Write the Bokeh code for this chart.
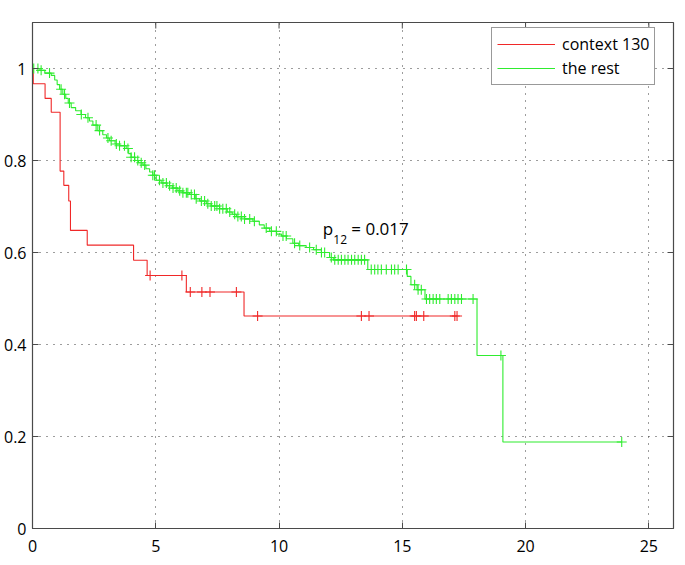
import numpy as np
from bokeh.plotting import figure
from bokeh.models import FixedTicker, Label, Legend, LegendItem, Range1d
from bokeh.embed import file_html
from bokeh.resources import INLINE

# ---------------- data ----------------
# group "context 130" (red): event times and survival after each event
red_times = [0.0, 0.03, 0.51, 0.76, 1.12, 1.27, 1.47, 1.54, 2.22, 4.10, 4.65, 6.24, 8.58]
red_surv = [1.0, 0.967, 0.935, 0.905, 0.777, 0.746, 0.712, 0.648, 0.616, 0.583, 0.550, 0.514, 0.462]
red_censor = [4.77, 6.06, 6.40, 6.87, 7.20, 8.27, 9.13, 13.34, 13.65, 15.50, 15.57,
              15.87, 17.13, 17.22]

# group "the rest" (green)
green_times = [0.0, 0.30, 0.50, 0.76, 0.90, 1.00, 1.10, 1.23, 1.35, 1.45, 1.57, 1.75, 1.97,
               2.15, 2.31, 2.45, 2.65, 2.85, 3.00, 3.12, 3.35, 3.53, 3.80, 3.90, 4.00,
               4.15, 4.30, 4.48, 4.60, 4.75, 4.88, 5.02, 5.22, 5.45, 5.69, 5.90, 6.10,
               6.37, 6.60, 6.78, 7.05, 7.25, 7.59, 7.90, 8.10, 8.27, 8.60, 8.94, 9.20,
               9.40, 9.62, 9.90, 10.10, 10.30, 10.56, 10.80, 11.10, 11.40, 11.72, 12.05,
               12.20, 13.60, 15.20, 15.35, 15.60, 15.92, 18.03, 19.08]
green_surv = [1.0, 0.996, 0.990, 0.985, 0.975, 0.965, 0.955, 0.944, 0.935, 0.925, 0.915,
              0.908, 0.900, 0.893, 0.886, 0.877, 0.865, 0.856, 0.849, 0.843, 0.836, 0.832,
              0.826, 0.815, 0.807, 0.800, 0.795, 0.790, 0.782, 0.775, 0.768, 0.757, 0.751,
              0.745, 0.740, 0.734, 0.730, 0.726, 0.717, 0.712, 0.706, 0.701, 0.695, 0.688,
              0.683, 0.678, 0.673, 0.668, 0.660, 0.653, 0.646, 0.640, 0.636, 0.630, 0.620,
              0.615, 0.611, 0.606, 0.600, 0.589, 0.584, 0.563, 0.548, 0.530, 0.519, 0.499,
              0.376, 0.188]
green_censor = [0.05, 0.22, 0.35, 0.69, 1.16, 1.30, 1.50, 1.98, 2.25, 2.58, 2.72, 3.06,
                3.19, 3.40, 3.53, 3.73, 3.87, 4.00, 4.14, 4.27, 4.41, 4.55, 4.88, 4.95,
                5.15, 5.29, 5.43, 5.56, 5.70, 5.83, 5.97, 6.10, 6.24, 6.30, 6.44, 6.57,
                6.64, 6.85, 6.98, 7.11, 7.25, 7.39, 7.48, 7.59, 7.72, 7.86, 8.00, 8.20,
                8.33, 8.47, 8.60, 8.81, 9.00, 9.48, 9.69, 9.89, 10.16, 10.29, 10.63, 10.84,
                11.24, 11.51, 11.72, 11.85, 12.12, 12.26, 12.40, 12.53, 12.67, 12.80,
                12.94, 13.07, 13.21, 13.34, 13.47, 13.74, 13.88, 14.01, 14.15, 14.35,
                14.56, 14.69, 14.83, 15.17, 15.50, 15.64, 15.77, 15.98, 16.11, 16.25,
                16.38, 16.52, 16.86, 16.99, 17.13, 17.26, 17.40, 17.87, 19.00, 23.90]

x_ticks = [0, 5, 10, 15, 20, 25]
y_ticks = [0, 0.2, 0.4, 0.6, 0.8, 1.0]
y_tick_labels = ["0", "0.2", "0.4", "0.6", "0.8", "1"]
series_names = ["context 130", "the rest"]
p_label = ("p", "12", "= 0.017")

X_MAX, Y_MAX = 26, 1.1

RED = "#f02828"
GREEN = "#2fec2f"
FONT = "Open Sans"
AX = "#4a4a4a"


def km_arrays(times, surv, censor):
    end = max(max(censor), times[-1])
    xs = list(times) + [end]
    ys = list(surv) + [surv[-1]]
    idx = np.searchsorted(np.array(times), np.array(censor), side="right") - 1
    cy = [surv[i] for i in idx]
    return xs, ys, cy


p = figure(frame_width=641, frame_height=506,
           x_range=Range1d(0, X_MAX), y_range=Range1d(0, Y_MAX),
           output_backend="svg", toolbar_location=None,
           min_border_left=0, min_border_right=8, min_border_top=22, min_border_bottom=36)
p.background_fill_color = "white"
p.border_fill_color = "white"
p.outline_line_color = AX
p.outline_line_width = 1.2

p.xaxis[0].ticker = FixedTicker(ticks=x_ticks)
p.yaxis[0].ticker = FixedTicker(ticks=y_ticks)
p.yaxis[0].major_label_overrides = {t: s for t, s in zip(y_ticks, y_tick_labels)}

for ax in p.axis:
    ax.major_tick_in = 6
    ax.major_tick_out = 0
    ax.minor_tick_in = 0
    ax.minor_tick_out = 0
    ax.axis_line_color = AX
    ax.major_tick_line_color = AX
    ax.major_label_text_font = FONT
    ax.major_label_text_font_size = "16px"
    ax.major_label_text_color = "black"

p.xaxis[0].major_label_standoff = 11
p.yaxis[0].major_label_standoff = 6

for g in (p.xgrid[0], p.ygrid[0]):
    g.grid_line_color = "#3a3a3a"
    g.grid_line_dash = "1 6"
    g.grid_line_width = 1
p.xgrid[0].ticker = FixedTicker(ticks=x_ticks)
p.ygrid[0].ticker = FixedTicker(ticks=y_ticks)

# inward tick marks on the top and right edges (half of each dash is clipped by the frame)
p.scatter([X_MAX] * len(y_ticks), y_ticks, marker="dash", size=12,
          line_color=AX, line_width=1)
p.scatter(x_ticks, [Y_MAX] * len(x_ticks), marker="dash", size=12, angle=np.pi / 2,
          line_color=AX, line_width=1)

# curves
rx, ry, rcy = km_arrays(red_times, red_surv, red_censor)
gx, gy, gcy = km_arrays(green_times, green_surv, green_censor)

r_line = p.step(rx, ry, mode="after", line_color=RED, line_width=1.1)
g_line = p.step(gx, gy, mode="after", line_color=GREEN, line_width=1.1)
p.scatter(red_censor, rcy, marker="cross", size=10, line_color=RED, line_width=1.1)
p.scatter(green_censor, gcy, marker="cross", size=10, line_color=GREEN, line_width=1.1)

# p-value annotation
p.add_layout(Label(x=11.77, y=0.652, text=p_label[0], text_font=FONT,
                   text_font_size="17px", text_baseline="alphabetic", text_color="black"))
p.add_layout(Label(x=12.2, y=0.628, text=p_label[1], text_font=FONT,
                   text_font_size="12px", text_baseline="alphabetic", text_color="black"))
p.add_layout(Label(x=12.93, y=0.652, text=p_label[2], text_font=FONT,
                   text_font_size="17px", text_baseline="alphabetic", text_color="black"))

legend = Legend(items=[LegendItem(label=series_names[0], renderers=[r_line]),
                       LegendItem(label=series_names[1], renderers=[g_line])],
                location=(459, 443))
legend.border_line_color = "#333333"
legend.border_line_width = 1
legend.background_fill_color = "white"
legend.background_fill_alpha = 1
legend.label_text_font = FONT
legend.label_text_font_size = "16px"
legend.label_text_color = "black"
legend.glyph_width = 58
legend.glyph_height = 18
legend.label_height = 18
legend.label_standoff = 7
legend.padding = 5
legend.spacing = 2
legend.margin = 0
p.add_layout(legend)

open("out.html", "w").write(file_html(p, INLINE))
